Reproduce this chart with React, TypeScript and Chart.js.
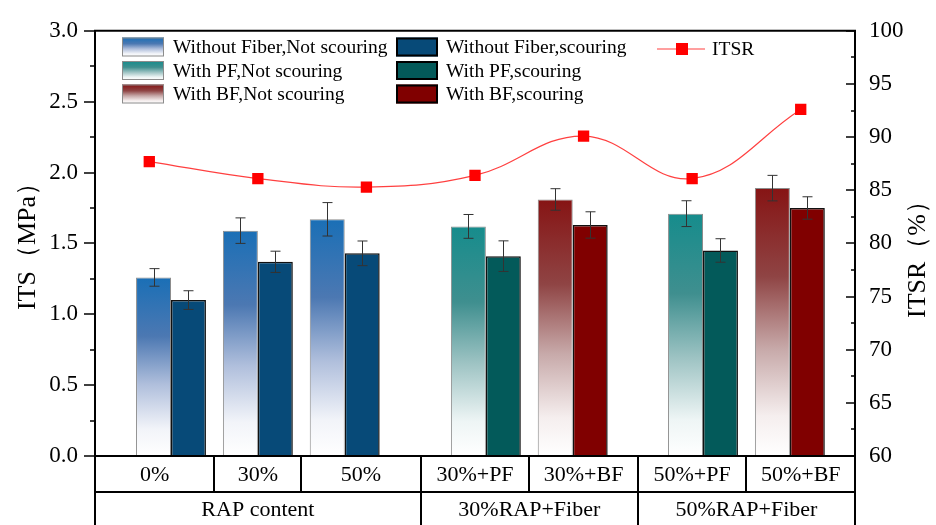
import React, { useEffect, useRef } from "react";
import { Chart, registerables } from "chart.js";

Chart.register(...registerables);

// ---------- data ----------
const categories = ["0%", "30%", "50%", "30%+PF", "30%+BF", "50%+PF", "50%+BF"];
const groupLabels = ["RAP content", "30%RAP+Fiber", "50%RAP+Fiber"];

// x positions (in category units) of each bar pair and of the ITSR points
const barX = [0.2, 1.0, 1.8, 3.1, 3.9, 5.1, 5.9];
const itsrX = [0, 1, 2, 3, 4, 5, 6];
// cell edges of the category table below the plot
const cellEdges = [-0.5, 0.6, 1.4, 2.5, 3.5, 4.5, 5.5, 6.5];
const groupEdges = [-0.5, 2.5, 4.5, 6.5];

const woFiberNotScour = [1.26, 1.59, 1.67, null, null, null, null];
const woFiberScour = [1.10, 1.37, 1.43, null, null, null, null];
const pfNotScour = [null, null, null, 1.62, null, 1.71, null];
const pfScour = [null, null, null, 1.41, null, 1.45, null];
const bfNotScour = [null, null, null, null, 1.81, null, 1.89];
const bfScour = [null, null, null, null, 1.63, null, 1.75];

const woFiberNotScourErr = [0.062, 0.09, 0.118, null, null, null, null];
const woFiberScourErr = [0.066, 0.075, 0.087, null, null, null, null];
const pfNotScourErr = [null, null, null, 0.084, null, 0.091, null];
const pfScourErr = [null, null, null, 0.108, null, 0.083, null];
const bfNotScourErr = [null, null, null, null, 0.076, null, 0.09];
const bfScourErr = [null, null, null, null, 0.093, null, 0.079];

const itsr = [87.7, 86.1, 85.3, 86.4, 90.1, 86.1, 92.6];

const yTicksMin = 0, yTicksMax = 3, yStep = 0.5;
const y1Min = 60, y1Max = 100, y1Step = 5;

// ---------- styles ----------
const SERIF = "'Liberation Serif', 'Times New Roman', serif";
const stopPos = [0, 0.33, 0.6, 0.85, 1];
const blueStops = ["#1a6fb6", "#4c78b2", "#b0bfdc", "#f2f4f9", "#ffffff"];
const tealStops = ["#168c8c", "#3f8f8f", "#9fc4c4", "#eef5f5", "#ffffff"];
const redStops = ["#861414", "#8f4444", "#c7a9a9", "#f5eeee", "#ffffff"];
const darkBlue = "#074a78";
const darkTeal = "#035a5a";
const darkRed = "#800000";

export default function App() {
  const ref = useRef<HTMLCanvasElement | null>(null);

  useEffect(() => {
    document.body.style.margin = "0";
    const canvas = ref.current!;

    const gradFill = (stops: string[], values: (number | null)[]) => (c: any) => {
      const chart = c.chart;
      const v = values[c.dataIndex];
      if (v == null || !chart.chartArea || !chart.scales.y) return stops[0];
      const ys = chart.scales.y;
      const top = ys.getPixelForValue(v);
      const bottom = ys.getPixelForValue(0);
      const g = chart.ctx.createLinearGradient(0, top, 0, bottom);
      stops.forEach((s, i) => g.addColorStop(stopPos[i], s));
      return g;
    };

    const toPts = (vals: (number | null)[], xs: number[]) =>
      xs.map((x, i) => ({ x, y: vals[i] }));

    const lightDs = (label: string, vals: (number | null)[], errs: (number | null)[], stops: string[]) => ({
      type: "bar",
      label,
      data: toPts(vals, barX),
      errors: errs,
      backgroundColor: gradFill(stops, vals),
      borderColor: "#8c8c8c",
      borderWidth: 1,
      yAxisID: "y",
      order: 1,
      swatch: { kind: "grad", stops },
    });
    const darkDs = (label: string, vals: (number | null)[], errs: (number | null)[], color: string) => ({
      type: "bar",
      label,
      data: toPts(vals, barX),
      errors: errs,
      backgroundColor: color,
      borderColor: "#111",
      borderWidth: 1.5,
      yAxisID: "y",
      order: 1,
      swatch: { kind: "solid", color },
    });

    const datasets: any[] = [
      lightDs("Without Fiber,Not scouring", woFiberNotScour, woFiberNotScourErr, blueStops),
      darkDs("Without Fiber,scouring", woFiberScour, woFiberScourErr, darkBlue),
      lightDs("With PF,Not scouring", pfNotScour, pfNotScourErr, tealStops),
      darkDs("With PF,scouring", pfScour, pfScourErr, darkTeal),
      lightDs("With BF,Not scouring", bfNotScour, bfNotScourErr, redStops),
      darkDs("With BF,scouring", bfScour, bfScourErr, darkRed),
      {
        type: "line",
        label: "ITSR",
        data: toPts(itsr, itsrX),
        yAxisID: "y1",
        borderColor: "rgba(255,30,30,0.85)",
        borderWidth: 1.2,
        tension: 0.4,
        pointStyle: "rect",
        pointRadius: 8,
        pointBackgroundColor: "#ff0000",
        pointBorderWidth: 0,
        order: 0,
      },
    ];

    const errorBars = {
      id: "errorBars",
      afterDatasetsDraw(chart: any) {
        const ctx = chart.ctx;
        const ys = chart.scales.y;
        ctx.save();
        ctx.strokeStyle = "#333";
        ctx.lineWidth = 1;
        chart.data.datasets.forEach((ds: any, di: number) => {
          if (ds.type !== "bar") return;
          const meta = chart.getDatasetMeta(di);
          meta.data.forEach((el: any, i: number) => {
            const v = ds.data[i].y;
            const e = ds.errors[i];
            if (v == null || e == null) return;
            const x = Math.round(el.x) + 0.5;
            const yt = ys.getPixelForValue(v + e);
            const yb = ys.getPixelForValue(v - e);
            ctx.beginPath();
            ctx.moveTo(x, yt);
            ctx.lineTo(x, yb);
            ctx.moveTo(x - 5, yt);
            ctx.lineTo(x + 5, yt);
            ctx.moveTo(x - 5, yb);
            ctx.lineTo(x + 5, yb);
            ctx.stroke();
          });
        });
        ctx.restore();
      },
    };

    const decor = {
      id: "decor",
      afterDraw(chart: any) {
        const ctx = chart.ctx;
        const { left, right, top, bottom } = chart.chartArea;
        const xs = chart.scales.x;
        const ys = chart.scales.y;
        const y1 = chart.scales.y1;
        ctx.save();
        ctx.strokeStyle = "#000";
        ctx.fillStyle = "#000";

        // frame top
        ctx.lineWidth = 2;
        ctx.beginPath();
        ctx.moveTo(left - 1, top);
        ctx.lineTo(right + 1, top);
        ctx.stroke();

        // left axis ticks (outward)
        ctx.lineWidth = 1.5;
        for (let v = yTicksMin; v <= yTicksMax + 1e-9; v += yStep / 2) {
          const major = Math.abs(v / yStep - Math.round(v / yStep)) < 1e-6;
          const py = Math.round(ys.getPixelForValue(v));
          ctx.beginPath();
          ctx.moveTo(left, py);
          ctx.lineTo(left - (major ? 11 : 5), py);
          ctx.stroke();
        }
        // right axis ticks (inward)
        for (let v = y1Min; v <= y1Max + 1e-9; v += y1Step / 2) {
          const major = Math.abs(v / y1Step - Math.round(v / y1Step)) < 1e-6;
          const py = Math.round(y1.getPixelForValue(v));
          ctx.beginPath();
          ctx.moveTo(right, py);
          ctx.lineTo(right - (major ? 9 : 4), py);
          ctx.stroke();
        }

        // category table
        const row1Top = bottom;
        const row1Bot = bottom + 36;
        const row2Bot = chart.height + 2;
        ctx.lineWidth = 2;
        ctx.beginPath();
        ctx.moveTo(left - 1, row1Top);
        ctx.lineTo(right + 1, row1Top);
        ctx.moveTo(left - 1, row1Bot);
        ctx.lineTo(right + 1, row1Bot);
        cellEdges.forEach((e) => {
          const px = Math.round(xs.getPixelForValue(e));
          ctx.moveTo(px, row1Top);
          ctx.lineTo(px, row1Bot);
        });
        groupEdges.forEach((e) => {
          const px = Math.round(xs.getPixelForValue(e));
          ctx.moveTo(px, row1Bot);
          ctx.lineTo(px, row2Bot);
        });
        ctx.stroke();

        ctx.font = `22px ${SERIF}`;
        ctx.textAlign = "center";
        ctx.textBaseline = "middle";
        categories.forEach((c, i) => {
          const cx = (xs.getPixelForValue(cellEdges[i]) + xs.getPixelForValue(cellEdges[i + 1])) / 2;
          ctx.fillText(c, cx, (row1Top + row1Bot) / 2 + 1);
        });
        groupLabels.forEach((g, i) => {
          const cx = (xs.getPixelForValue(groupEdges[i]) + xs.getPixelForValue(groupEdges[i + 1])) / 2;
          ctx.fillText(g, cx, row1Bot + 18);
        });

        // axis titles
        ctx.font = `26px ${SERIF}`;
        ctx.save();
        ctx.translate(28, 240);
        ctx.rotate(-Math.PI / 2);
        ctx.fillText("ITS（MPa）", 0, 0);
        ctx.restore();
        ctx.save();
        ctx.translate(918, 253);
        ctx.rotate(-Math.PI / 2);
        ctx.fillText("ITSR（%）", 0, 0);
        ctx.restore();

        // legend
        ctx.font = `19.5px ${SERIF}`;
        ctx.textAlign = "left";
        const rowTops = [37.5, 61, 84.5];
        const sw = 42, sh = 19;
        const barSets = chart.data.datasets.filter((d: any) => d.type === "bar");
        barSets.forEach((d: any, i: number) => {
          const col = i % 2;
          const row = Math.floor(i / 2);
          const sx = col === 0 ? 122 : 396;
          const tx = col === 0 ? 173 : 446;
          const sy = rowTops[row];
          if (d.swatch.kind === "grad") {
            const g = ctx.createLinearGradient(0, sy, 0, sy + sh);
            d.swatch.stops.forEach((s: string, k: number) => g.addColorStop(stopPos[k], s));
            ctx.fillStyle = g;
            ctx.fillRect(sx, sy, sw, sh);
            ctx.strokeStyle = "#8c8c8c";
            ctx.lineWidth = 1;
            ctx.strokeRect(sx + 0.5, sy + 0.5, sw - 1, sh - 1);
          } else {
            ctx.fillStyle = d.swatch.color;
            ctx.fillRect(sx, sy, sw, sh);
            ctx.strokeStyle = "#000";
            ctx.lineWidth = 2;
            ctx.strokeRect(sx + 1, sy + 1, sw - 2, sh - 2);
          }
          ctx.fillStyle = "#000";
          ctx.fillText(d.label, tx, sy + sh / 2 + 1);
        });
        // ITSR legend
        ctx.strokeStyle = "rgba(255,30,30,0.85)";
        ctx.lineWidth = 1.2;
        ctx.beginPath();
        ctx.moveTo(657, 49);
        ctx.lineTo(705, 49);
        ctx.stroke();
        ctx.fillStyle = "#ff0000";
        ctx.fillRect(676, 43, 12, 12);
        ctx.fillStyle = "#000";
        ctx.fillText("ITSR", 712, 50);

        ctx.restore();
      },
    };

    const chart = new Chart(canvas, {
      type: "bar",
      data: { datasets },
      options: {
        responsive: false,
        animation: false,
        devicePixelRatio: 1,
        layout: { padding: { top: 27, bottom: 69, left: 0, right: 0 } },
        plugins: { legend: { display: false }, tooltip: { enabled: false } },
        datasets: {
          bar: { categoryPercentage: 0.805, barPercentage: 1, skipNull: true },
        },
        scales: {
          x: {
            type: "linear",
            min: -0.5,
            max: 6.5,
            offset: false,
            display: false,
            afterBuildTicks: (s: any) => {
              s.ticks = barX.map((v) => ({ value: v }));
            },
          },
          y: {
            type: "linear",
            position: "left",
            min: yTicksMin,
            max: yTicksMax,
            afterFit: (s: any) => {
              s.width = 95;
            },
            ticks: {
              stepSize: yStep,
              padding: 17,
              color: "#000",
              font: { family: SERIF, size: 23 },
              callback: (v: any) => Number(v).toFixed(1),
            },
            grid: { display: true, drawOnChartArea: false, drawTicks: false, tickLength: 0 },
            border: { display: true, color: "#000", width: 2 },
          },
          y1: {
            type: "linear",
            position: "right",
            min: y1Min,
            max: y1Max,
            afterFit: (s: any) => {
              s.width = 81;
            },
            ticks: {
              stepSize: y1Step,
              padding: 14,
              color: "#000",
              font: { family: SERIF, size: 23 },
            },
            grid: { display: true, drawOnChartArea: false, drawTicks: false, tickLength: 0 },
            border: { display: true, color: "#000", width: 2 },
          },
        },
      },
      plugins: [errorBars, decor],
    } as any);

    return () => chart.destroy();
  }, []);

  return (
    <div style={{ width: 936, height: 525, position: "relative", background: "#fff" }}>
      <canvas ref={ref} width={936} height={525} style={{ display: "block" }} />
    </div>
  );
}
